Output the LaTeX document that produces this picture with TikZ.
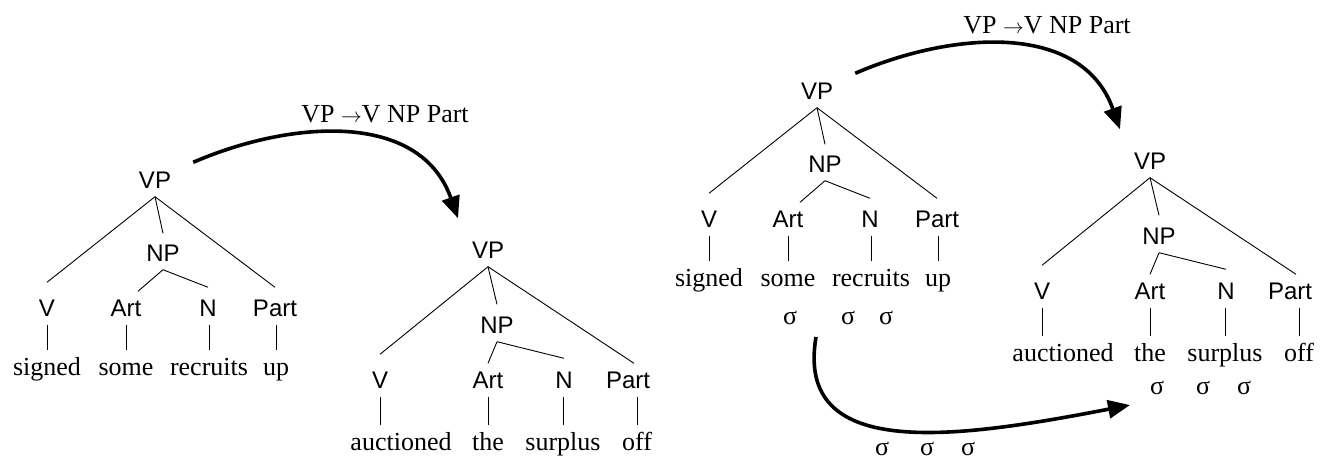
\documentclass[tikz,border=0pt]{standalone}
\usepackage{fontspec}
\setmainfont{Liberation Serif}
\setsansfont{Liberation Sans}
\usetikzlibrary{arrows.meta}

\begin{document}
\begin{tikzpicture}[x=1pt, y=-1pt,
  cat/.style={font=\sffamily\fontsize{24}{28}\selectfont, text height=17pt, text depth=0pt, inner sep=8pt},
  word/.style={font=\fontsize{26}{30}\selectfont, text height=18pt, text depth=6pt, inner sep=7pt, anchor=base},
  syl/.style={font=\fontsize{26}{30}\selectfont, inner sep=0pt},
  rulelabel/.style={font=\fontsize{26}{30}\selectfont, anchor=base},
  branch/.style={line width=0.9pt},
  stem/.style={line width=0.8pt},
  bigarrow/.style={line width=3.6pt, -{Triangle[length=22pt, width=18pt]}}]
\useasboundingbox (0,0) rectangle (1321,459);

\foreach \p/\dx/\dy in {l/0/0, r/662/-89} {
\begin{scope}[shift={(\dx,\dy)}]
% tree before the rule
\node [cat] (\p-vpA) at (155,180) {VP};
\node [cat] (\p-npA) at (163,253) {NP};
\node [cat] (\p-vA) at (47,308) {V};
\node [cat] (\p-artA) at (126,308) {Art};
\node [cat] (\p-nA) at (208,308) {N};
\node [cat] (\p-partA) at (275,308) {Part};
\node [word] (\p-wvA) at (47,375) {signed};
\node [word] (\p-wartA) at (126,375) {some};
\node [word] (\p-wnA) at (209,375) {recruits};
\node [word] (\p-wpartA) at (276,375) {up};
\draw [branch] (\p-vpA.south) -- ([yshift=9pt]\p-vA.north);
\draw [branch] (\p-vpA.south) -- ([yshift=3pt]\p-npA.north);
\draw [branch] (\p-vpA.south) -- ([yshift=4pt]\p-partA.north);
\draw [branch] (\p-npA.south) -- ([xshift=12pt]\p-artA.north);
\draw [branch] (\p-npA.south) -- ([yshift=4pt]\p-nA.north);
\draw [stem] (\p-vA.south) -- (\p-vA.south |- \p-wvA.north);
\draw [stem] (\p-artA.south) -- (\p-artA.south |- \p-wartA.north);
\draw [stem] (\p-nA.south -| \p-wnA.north) -- (\p-wnA.north);
\draw [stem] (\p-partA.south -| \p-wpartA.north) -- (\p-wpartA.north);
% tree after the rule
\node [cat] (\p-vpB) at (488,250) {VP};
\node [cat] (\p-npB) at (497,325) {NP};
\node [cat] (\p-vB) at (380,380) {V};
\node [cat] (\p-artB) at (488,380) {Art};
\node [cat] (\p-nB) at (564,380) {N};
\node [cat] (\p-partB) at (628,380) {Part};
\node [word] (\p-wvB) at (401,450) {auctioned};
\node [word] (\p-wartB) at (488,450) {the};
\node [word] (\p-wnB) at (563,450) {surplus};
\node [word] (\p-wpartB) at (637,450) {off};
\draw [branch] (\p-vpB.south) -- ([yshift=9pt]\p-vB.north);
\draw [branch] (\p-vpB.south) -- ([yshift=4pt]\p-npB.north);
\draw [branch] (\p-vpB.south) -- ([xshift=6pt]\p-partB.north);
\draw [branch] (\p-npB.south) -- (\p-artB.north);
\draw [branch] (\p-npB.south) -- ([yshift=5pt]\p-nB.north);
\draw [stem] (\p-vB.south) -- (\p-vB.south |- \p-wvB.north);
\draw [stem] (\p-artB.south) -- (\p-artB.south |- \p-wartB.north);
\draw [stem] (\p-nB.south -| \p-wnB.north) -- (\p-wnB.north);
\draw [stem] (\p-partB.south -| \p-wpartB.north) -- (\p-wpartB.north);
% the rule
\node [rulelabel] (\p-rule) at (385,122) {VP {\fontsize{20}{24}\selectfont$\rightarrow$}V NP Part};
\draw [bigarrow] ([xshift=14pt,yshift=1pt]\p-vpA.north east) .. controls +(97,-42) and +(-38,-108) .. ([xshift=-30pt,yshift=15pt]\p-vpB.north);
\end{scope}
}

% syllables
\node [syl] (sa1) at (790,318) {σ};
\node [syl] (sa2) at (848,318) {σ};
\node [syl] (sa3) at (886,318) {σ};
\node [syl] (sb1) at (882,449) {σ};
\node [syl] (sb2) at (927,449) {σ};
\node [syl] (sb3) at (968,449) {σ};
\node [syl] (sc1) at (1157,388) {σ};
\node [syl] (sc2) at (1203,388) {σ};
\node [syl] (sc3) at (1244,388) {σ};
\coordinate (sfrom) at (816,337);
\coordinate (sto) at (1130,405);
\draw [bigarrow] (sfrom) .. controls +(-21,123) and +(-180,35) .. (sto);
\end{tikzpicture}
\end{document}
